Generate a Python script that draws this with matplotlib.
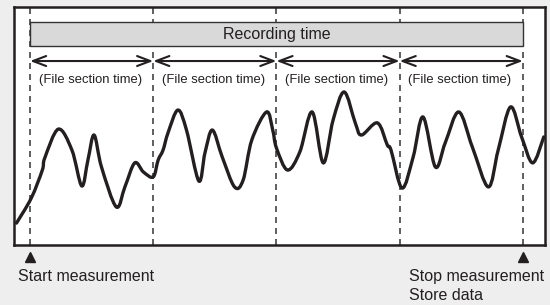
import matplotlib.pyplot as plt
from matplotlib.path import Path
from matplotlib.patches import PathPatch, Rectangle
import numpy as np

plt.rcParams['font.family'] = ['Liberation Sans', 'DejaVu Sans']

# time in file sections (boundaries at 0..4), level in % of box height
wave_t = [-0.11, 0.01, 0.10, 0.12, 0.23, 0.34, 0.42, 0.47, 0.52, 0.58, 0.70, 0.77,
          0.85, 0.92, 1.00, 1.04, 1.08, 1.12, 1.20, 1.27, 1.37, 1.42, 1.48, 1.56,
          1.66, 1.73, 1.80, 1.92, 1.97, 2.00, 2.09, 2.19, 2.29, 2.38, 2.46, 2.55,
          2.64, 2.69, 2.82, 2.90, 2.93, 3.02, 3.11, 3.19, 3.29, 3.37, 3.48, 3.59,
          3.72, 3.80, 3.90, 3.99, 4.08, 4.17]
wave_v = [9.2, 19.7, 31.5, 36.6, 48.7, 39.9, 24.8, 35.7, 46.2, 32.8, 16.0, 24.4,
          34.5, 30.7, 28.6, 35.7, 39.9, 47.1, 56.7, 48.3, 26.9, 38.7, 48.3, 37.0,
          24.4, 27.3, 44.1, 55.9, 48.3, 40.8, 31.5, 39.1, 55.9, 34.5, 52.5, 64.3,
          51.3, 46.2, 51.3, 42.0, 39.9, 23.9, 37.0, 53.8, 32.8, 42.9, 55.9, 41.2,
          24.4, 39.9, 58.0, 45.4, 34.5, 45.4]

sections = [0, 1, 2, 3, 4]
section_label = "(File section time)"
record_label = "Recording time"
start_label = "Start measurement"
stop_labels = ["Stop measurement", "Store data"]

ink = '#231f20'

fig = plt.figure(figsize=(5.5, 3.05), dpi=100)
fig.patch.set_facecolor('#eeeeee')
ax = fig.add_axes([14 / 550, 60 / 305, 531 / 550, 238 / 305])
ax.set_facecolor('white')
ax.set_xlim(-0.13, 4.18)
ax.set_ylim(0, 100)
ax.set_xticks([])
ax.set_yticks([])
for s in ax.spines.values():
    s.set_linewidth(1.8)
    s.set_color(ink)

# section boundaries
ax.vlines(sections, 0, 100, colors='#444444', linestyles=(0, (3.6, 3.0)), lw=1.2, zorder=1)

# recording time bar
ax.add_patch(Rectangle((sections[0], 83.6), sections[-1] - sections[0], 10.1,
                       facecolor='#d9d9d9', edgecolor='#333333', lw=1.0, zorder=3))
ax.text((sections[0] + sections[-1]) / 2, 88.6, record_label, ha='center', va='center',
        fontsize=11.5, color=ink, zorder=4)

# file section arrows
for a, b in zip(sections[:-1], sections[1:]):
    ax.annotate('', xy=(b, 77.3), xytext=(a, 77.3),
                arrowprops=dict(arrowstyle='<->, head_length=0.95, head_width=0.36',
                                lw=1.5, color=ink, shrinkA=0, shrinkB=0))
    ax.text((a + b) / 2 - 0.01, 69.2, section_label, ha='center', va='center',
            fontsize=9.4, color=ink, zorder=4)

# smooth waveform (Catmull-Rom as cubic Bezier)
pts = np.column_stack([wave_t, wave_v])
n = len(pts)
verts = [tuple(pts[0])]
codes = [Path.MOVETO]
for i in range(n - 1):
    p0 = pts[max(i - 1, 0)]
    p1 = pts[i]
    p2 = pts[i + 1]
    p3 = pts[min(i + 2, n - 1)]
    verts += [tuple(p1 + (p2 - p0) / 6), tuple(p2 - (p3 - p1) / 6), tuple(p2)]
    codes += [Path.CURVE4] * 3
ax.add_patch(PathPatch(Path(verts, codes), facecolor='none', edgecolor=ink,
                       lw=2.4, capstyle='round', joinstyle='round', zorder=5))

# start / stop markers
ax.plot([sections[0], sections[-1]], [-5.0, -5.0], '^', color=ink, ms=7, clip_on=False)
ax.text(-0.10, -13.4, start_label, ha='left', va='center', fontsize=11.5, color=ink,
        clip_on=False)
ax.text(3.08, -13.4, stop_labels[0], ha='left', va='center', fontsize=11.5, color=ink,
        clip_on=False)
ax.text(3.08, -21.4, stop_labels[1], ha='left', va='center', fontsize=11.5, color=ink,
        clip_on=False)

fig.savefig('out.png', dpi=100, facecolor=fig.get_facecolor())
